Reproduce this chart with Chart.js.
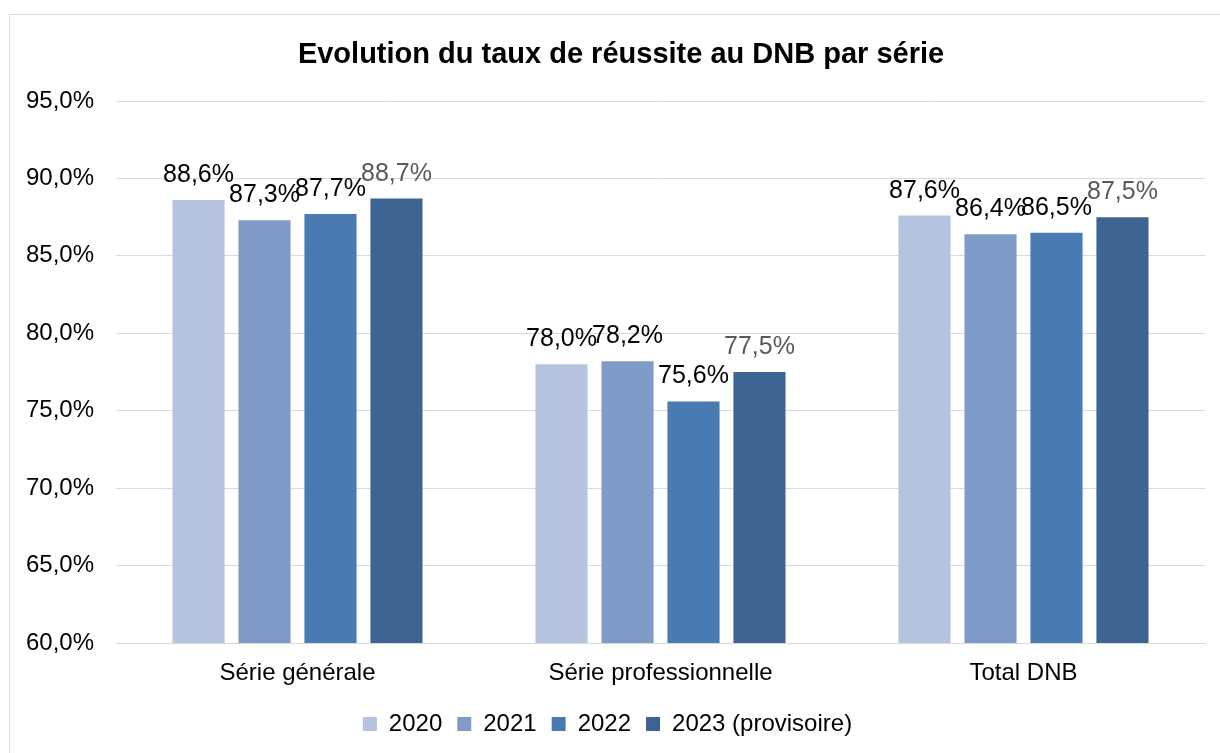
<!DOCTYPE html>
<html>
<head>
<meta charset="utf-8">
<script src="https://cdn.jsdelivr.net/npm/chart.js@4"></script>
<style>
  html, body { margin:0; padding:0; background:#fff; }
  #cadre { position:absolute; left:9px; top:14px; width:1240px; height:780px; border:1px solid #d9d9d9; box-sizing:border-box; }
  #zone { position:absolute; left:0; top:0; width:1220px; height:753px; }
</style>
</head>
<body>
<div id="cadre"></div>
<div id="zone"><canvas id="grafica" width="1220" height="753"></canvas></div>
<script>
// donnees
const titre = 'Evolution du taux de réussite au DNB par série';
const categories = ['Série générale', 'Série professionnelle', 'Total DNB'];
const annees = ['2020', '2021', '2022', '2023 (provisoire)'];
const taux2020 = [88.6, 78.0, 87.6];
const taux2021 = [87.3, 78.2, 86.4];
const taux2022 = [87.7, 75.6, 86.5];
const taux2023 = [88.7, 77.5, 87.5];
const couleurs = ['#b4c4df', '#7f9cc8', '#4a7ab2', '#3e6494'];
const couleursEtiquettes = ['#000000', '#000000', '#000000', '#595959'];
const police = '"Liberation Sans", Arial, sans-serif';

function pourcent(v){
  return v.toFixed(1).replace('.', ',') + '%';
}

// plugin: titre + etiquettes au dessus des barres
const etiquettes = {
  id: 'etiquettes',
  afterDatasetsDraw(chart){
    const ctx = chart.ctx;
    ctx.save();
    ctx.font = 'bold 29px ' + police;
    ctx.fillStyle = '#000';
    ctx.textAlign = 'center';
    ctx.textBaseline = 'alphabetic';
    ctx.fillText(titre, 621, 63);

    ctx.font = '25px ' + police;
    chart.data.datasets.forEach((ds, i) => {
      const meta = chart.getDatasetMeta(i);
      ctx.fillStyle = couleursEtiquettes[i];
      meta.data.forEach((bar, j) => {
        ctx.fillText(pourcent(ds.data[j]), bar.x, bar.y - 18);
      });
    });
    ctx.restore();
  }
};

const series = [taux2020, taux2021, taux2022, taux2023];
const grafica = new Chart(document.getElementById('grafica'), {
  type: 'bar',
  data: {
    labels: categories,
    datasets: annees.map((a, i) => ({
      label: a,
      data: series[i],
      backgroundColor: couleurs[i],
      borderWidth: 0,
      categoryPercentage: 0.727,
      barPercentage: 0.79
    }))
  },
  options: {
    responsive: false,
    animation: false,
    layout: { padding: { left: 10, right: 15, top: 101, bottom: 7 } },
    plugins: {
      title: { display: false },
      legend: {
        position: 'bottom',
        labels: {
          color: '#000',
          boxWidth: 14,
          boxHeight: 14,
          padding: 15,
          font: { family: police, size: 24 }
        }
      },
      tooltip: { enabled: false }
    },
    scales: {
      x: {
        afterFit(scale){ scale.height = 54; },
        grid: { display: false },
        border: { color: '#d9d9d9' },
        ticks: { color: '#000', padding: 8, font: { family: police, size: 24 } }
      },
      y: {
        min: 60,
        max: 95,
        afterFit(scale){ scale.width = 106; },
        grid: { color: '#d9d9d9', drawTicks: false },
        border: { display: false },
        ticks: {
          stepSize: 5,
          color: '#000',
          padding: 22,
          font: { family: police, size: 24 },
          callback: v => pourcent(v)
        }
      }
    }
  },
  plugins: [etiquettes]
});
</script>
</body>
</html>
